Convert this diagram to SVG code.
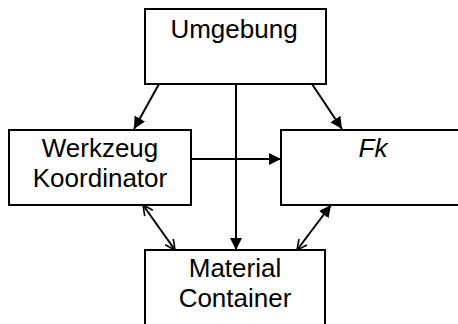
<svg xmlns="http://www.w3.org/2000/svg" width="458" height="324" viewBox="0 0 458 324">
<style>
.box{fill:#fff;stroke:#000;stroke-width:2}
.lbl{font-family:"Liberation Sans",Arial,sans-serif;font-size:26px;fill:#000;text-anchor:middle}
.ln{stroke:#000;stroke-width:2;fill:none}
</style>
<defs>
<marker id="fa" markerUnits="userSpaceOnUse" markerWidth="14" markerHeight="14" refX="12" refY="6" orient="auto">
<path d="M0,0 L12,6 L0,12 z" fill="#000"/>
</marker>
<marker id="oa" markerUnits="userSpaceOnUse" markerWidth="14" markerHeight="14" refX="11" refY="6" orient="auto-start-reverse">
<path d="M1,1 L11,6 L1,11" fill="none" stroke="#000" stroke-width="1.6"/>
</marker>
</defs>
<rect width="458" height="324" fill="#fff"/>
<g id="connectors">
<line class="ln" x1="159" y1="84" x2="134" y2="129" marker-end="url(#fa)"/>
<line class="ln" x1="312" y1="84" x2="342" y2="129" marker-end="url(#fa)"/>
<line class="ln" x1="236" y1="84" x2="236" y2="250" marker-end="url(#fa)"/>
<line class="ln" x1="191" y1="159" x2="281" y2="159" marker-end="url(#fa)"/>
<line class="ln" x1="143" y1="205" x2="175" y2="250" marker-start="url(#oa)" marker-end="url(#oa)"/>
<line class="ln" x1="297" y1="250" x2="331" y2="205" marker-start="url(#oa)" marker-end="url(#fa)"/>
</g>
<g id="umgebung">
<rect class="box" x="145" y="9" width="181" height="75"/>
<text class="lbl" x="234" y="38">Umgebung</text>
</g>
<g id="werkzeug">
<rect class="box" x="9" y="130" width="182" height="75"/>
<text class="lbl" x="100" y="157">Werkzeug</text>
<text class="lbl" x="100" y="186.5">Koordinator</text>
</g>
<g id="fk">
<rect class="box" x="281" y="130" width="184" height="75"/>
<text class="lbl" x="373" y="157" font-style="italic">Fk</text>
</g>
<g id="material">
<rect class="box" x="145" y="250" width="180" height="80"/>
<text class="lbl" x="235" y="277">Material</text>
<text class="lbl" x="235" y="307">Container</text>
</g>
</svg>
